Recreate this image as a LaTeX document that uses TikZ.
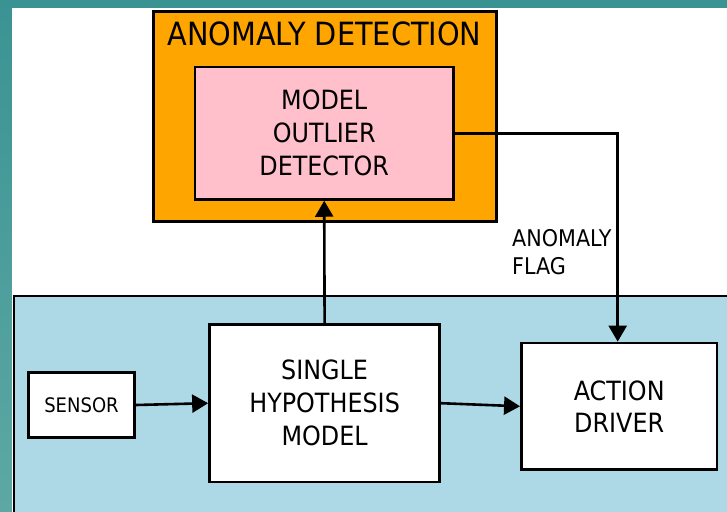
\documentclass[tikz,border=0pt]{standalone}
\usepackage{fontspec}
\setmainfont{DejaVu Sans}[FakeStretch=0.9]
\usetikzlibrary{arrows.meta}
\definecolor{tealbg}{HTML}{3A9393}
\definecolor{teallow}{HTML}{5DA8A4}
\definecolor{lblue}{HTML}{ADD8E6}
\definecolor{orng}{HTML}{FFA500}
\definecolor{pnk}{HTML}{FFC0CB}
\tikzset{
  box/.style={draw=black, line width=2.6pt, inner sep=0pt, align=center},
  arr/.style={line width=2.6pt, -{Triangle[length=16pt,width=18pt]}},
  txtbig/.style={font=\fontsize{26.5}{33}\selectfont},
}
\begin{document}
\begin{tikzpicture}[x=1pt,y=-1pt]
\useasboundingbox (0,0) rectangle (727,511);
\clip (0,0) rectangle (727,511);
% background
\fill[tealbg] (0,0) rectangle (727,511);
\shade[top color=tealbg, bottom color=teallow] (0,0) rectangle (12,511);
\fill[white] (12,8) rectangle (727,511);
\draw[line width=2pt, fill=lblue] (13.7,296) rectangle (740,530);
% anomaly detection group
\node[box, fill=orng, minimum width=343pt, minimum height=210pt] (grp) at (325,116.5) {};
\node[font=\fontsize{32}{38}\selectfont, inner sep=0pt, anchor=base] (title) at (324.5,45.5) {ANOMALY DETECTION};
\node[box, fill=pnk, txtbig, minimum width=258.7pt, minimum height=132.5pt] (mod) at (324.2,133.2) {MODEL\\OUTLIER\\DETECTOR};
% lower boxes
\node[box, fill=white, font=\fontsize{20}{24}\selectfont, minimum width=106pt, minimum height=65.4pt] (sensor) at (81.5,405) {SENSOR};
\node[box, fill=white, txtbig, minimum width=230.3pt, minimum height=157.5pt] (shm) at (324.6,403.2) {SINGLE\\HYPOTHESIS\\MODEL};
\node[box, fill=white, font=\fontsize{26.5}{32}\selectfont, minimum width=195.7pt, minimum height=126.7pt] (act) at (619.2,406.3) {ACTION\\DRIVER};
% label
\node[font=\fontsize{23}{28}\selectfont, inner sep=0pt, align=left, anchor=north west] (flag) at (512,229) {ANOMALY\\FLAG};
% connectors
\draw[arr] (sensor.east) -- (shm.west);
\draw[arr] (shm.east) -- (act.west);
\draw[arr] (shm.north) -- (mod.south);
\coordinate (corner) at (617.7,133.2);
\draw[arr] (mod.east) -- (corner) -- (corner |- act.north);
\end{tikzpicture}
\end{document}
